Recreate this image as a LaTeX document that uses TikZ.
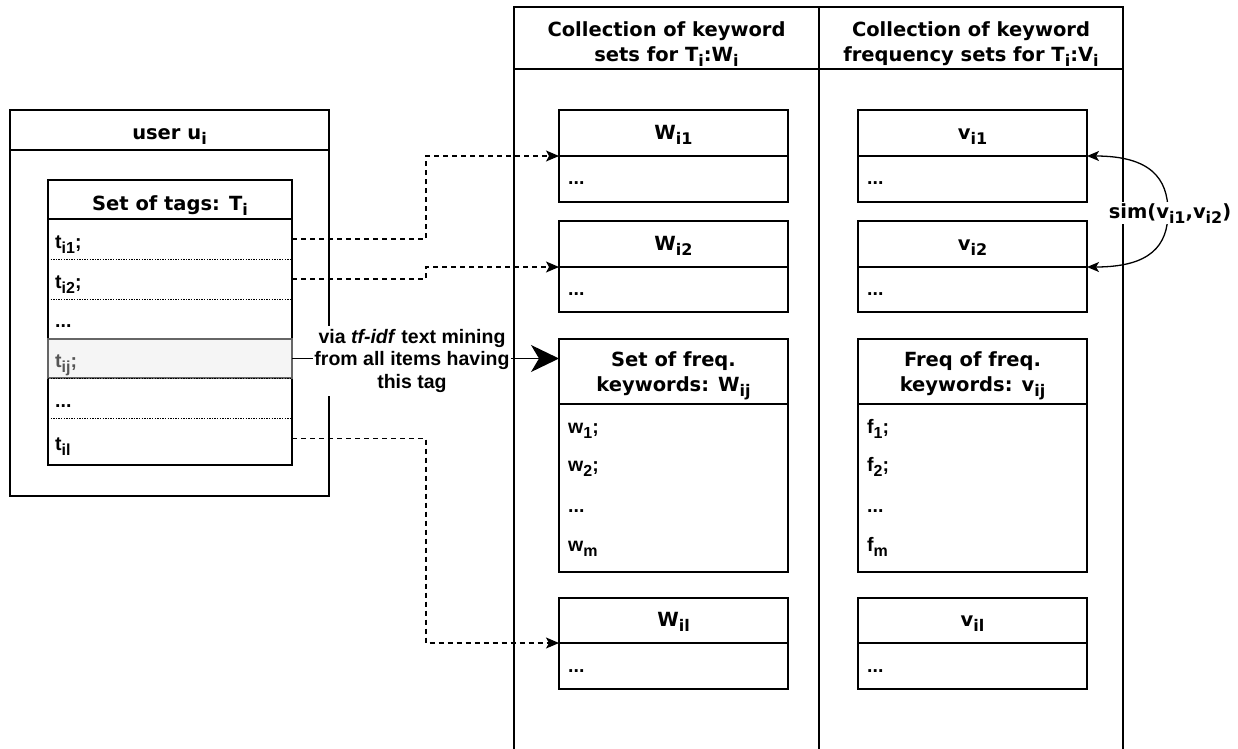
\documentclass[tikz,border=0pt]{standalone}
\usepackage{fontspec}
\setmainfont{Liberation Sans}
\newfontfamily\vfont{DejaVu Sans}
\usetikzlibrary{arrows.meta}
\newcommand\sbs[1]{\raisebox{-0.28em}{\fontsize{16}{16}\selectfont #1}}
\newcommand\fsz{\fontsize{19.5}{23.4}\selectfont}
\newcommand\twoline[2]{\begin{tabular}[t]{@{}c@{}}#1\\#2\end{tabular}}
\begin{document}
\begin{tikzpicture}[x=1pt,y=-1pt,
  ln/.style={line width=1.3pt, draw=black},
  box/.style={ln, anchor=north west, inner sep=0pt, outer sep=0pt},
  row/.style={anchor=north west, inner sep=0pt, outer sep=0pt, minimum width=244pt},
  ttl/.style={anchor=base, inner sep=0pt, font=\vfont\bfseries\fsz},
  itm/.style={anchor=base west, inner sep=0pt, font=\bfseries\fsz},
  sep/.style={line width=1pt, dash pattern=on 1.3pt off 1.3pt},
  dsh/.style={line width=1.3pt, dash pattern=on 5pt off 4pt, -{Stealth[length=13pt,width=11pt,inset=3pt]}},
  simarr/.style={line width=1.3pt, {Stealth[length=12pt,width=10pt,inset=3pt]}-{Stealth[length=12pt,width=10pt,inset=3pt]}}
]
\useasboundingbox (0,0) rectangle (1238,748);
\clip (0,0) rectangle (1238,748);

% swimlanes
\node[box, minimum width=305pt, minimum height=760pt] (col1) at (514,7) {};
\node[box, minimum width=305pt, minimum height=62pt] (col1h) at (514,7) {};
\node[box, minimum width=304pt, minimum height=760pt] (col2) at (819,7) {};
\node[box, minimum width=304pt, minimum height=62pt] (col2h) at (819,7) {};
\node[ttl, font=\vfont\bfseries\fontsize{19.5}{25}\selectfont] (col1t) at (666.5,36) {\twoline{Collection of keyword}{sets for T\sbs{i}:W\sbs{i}}};
\node[ttl, font=\vfont\bfseries\fontsize{19.5}{25}\selectfont] (col2t) at (971,36) {\twoline{Collection of keyword}{frequency sets for T\sbs{i}:V\sbs{i}}};

% user box
\node[box, minimum width=319pt, minimum height=386pt] (user) at (10,110) {};
\node[box, minimum width=319pt, minimum height=40pt] (userh) at (10,110) {};
\node[ttl] (usert) at (169.5,139) {user u\sbs{i}};
\node[box, fill=white, minimum width=244pt, minimum height=285pt] (tags) at (48,180) {};
\node[box, minimum width=244pt, minimum height=39pt] (tagsh) at (48,180) {};
\node[ttl] (tagst) at (170,210) {Set of tags: T\sbs{i}};
\node[row, minimum height=40pt] (r1) at (48,219) {};
\node[row, minimum height=40pt] (r2) at (48,259) {};
\node[row, minimum height=40pt] (r3) at (48,299) {};
\node[row, minimum height=39pt, fill={rgb,255:red,245;green,245;blue,245}, draw={rgb,255:red,102;green,102;blue,102}, line width=1.3pt] (r4) at (48,339) {};
\node[row, minimum height=40pt] (r5) at (48,378) {};
\node[row, minimum height=41pt] (r6) at (48,418) {};
\draw[sep] (r1.south west) -- (r1.south east);
\draw[sep] (r2.south west) -- (r2.south east);
\draw[sep] (r5.north west) -- (r5.north east);
\draw[sep] (r5.south west) -- (r5.south east);
\node[itm] (t1) at (55,248) {t\sbs{i1};};
\node[itm] (t2) at (55,288) {t\sbs{i2};};
\node[itm] (t3) at (55,327) {...};
\node[itm, text={rgb,255:red,85;green,85;blue,85}] (t4) at (55,367) {t\sbs{ij};};
\node[itm] (t5) at (55,407) {...};
\node[itm] (t6) at (55,450) {t\sbs{il}};

% keyword set boxes
\node[box, minimum width=229pt, minimum height=46pt] (w1h) at (559,110) {};
\node[box, minimum width=229pt, minimum height=46pt] (w1b) at (559,156) {};
\node[box, minimum width=229pt, minimum height=46pt] (w2h) at (559,221) {};
\node[box, minimum width=229pt, minimum height=45pt] (w2b) at (559,267) {};
\node[box, minimum width=229pt, minimum height=65pt] (w3h) at (559,339) {};
\node[box, minimum width=229pt, minimum height=168pt] (w3b) at (559,404) {};
\node[box, minimum width=229pt, minimum height=45pt] (w4h) at (559,598) {};
\node[box, minimum width=229pt, minimum height=46pt] (w4b) at (559,643) {};
\node[ttl] (w1t) at (673.5,139) {W\sbs{i1}};
\node[ttl] (w2t) at (673.5,250.5) {W\sbs{i2}};
\node[ttl, font=\vfont\bfseries\fontsize{19.5}{24.5}\selectfont] (w3t) at (673.5,366.5) {\twoline{Set of freq.}{keywords: W\sbs{ij}}};
\node[ttl] (w4t) at (673.5,626) {W\sbs{il}};
\node[itm] (w1d) at (568,184) {...};
\node[itm] (w2d) at (568,295) {...};
\node[itm] (wa) at (568,433) {w\sbs{1};};
\node[itm] (wb) at (568,471) {w\sbs{2};};
\node[itm] (wc) at (568,512) {...};
\node[itm] (wd) at (568,551) {w\sbs{m}};
\node[itm] (w4d) at (568,672) {...};

% frequency boxes
\node[box, minimum width=229pt, minimum height=46pt] (v1h) at (858,110) {};
\node[box, minimum width=229pt, minimum height=46pt] (v1b) at (858,156) {};
\node[box, minimum width=229pt, minimum height=46pt] (v2h) at (858,221) {};
\node[box, minimum width=229pt, minimum height=45pt] (v2b) at (858,267) {};
\node[box, minimum width=229pt, minimum height=65pt] (v3h) at (858,339) {};
\node[box, minimum width=229pt, minimum height=168pt] (v3b) at (858,404) {};
\node[box, minimum width=229pt, minimum height=45pt] (v4h) at (858,598) {};
\node[box, minimum width=229pt, minimum height=46pt] (v4b) at (858,643) {};
\node[ttl] (v1t) at (972.5,139) {v\sbs{i1}};
\node[ttl] (v2t) at (972.5,250.5) {v\sbs{i2}};
\node[ttl, font=\vfont\bfseries\fontsize{19.5}{24.5}\selectfont] (v3t) at (972.5,366.5) {\twoline{Freq of freq.}{keywords: v\sbs{ij}}};
\node[ttl] (v4t) at (972.5,626) {v\sbs{il}};
\node[itm] (v1d) at (867,184) {...};
\node[itm] (v2d) at (867,295) {...};
\node[itm] (fa) at (867,433) {f\sbs{1};};
\node[itm] (fb) at (867,471) {f\sbs{2};};
\node[itm] (fc) at (867,512) {...};
\node[itm] (fd) at (867,551) {f\sbs{m}};
\node[itm] (v4d) at (867,672) {...};

% dashed connectors
\coordinate (mid) at (426,0);
\draw[dsh] (r1.east) -- (r1.east -| mid) |- (w1b.north west);
\draw[dsh] (r2.east) -- (r2.east -| mid) |- (w2b.north west);
\draw[dsh] (r6.east) -- (r6.east -| mid) |- (w4b.north west);

% main arrow with label
\draw[line width=1.3pt, -{Stealth[length=28pt,width=27pt,inset=8pt]}] (r4.east) -- (r4.east -| w3h.west);
\node[anchor=base, fill=white, inner sep=1pt, font=\bfseries\fontsize{19.5}{22.5}\selectfont] (lbl) at (412,343) {\begin{tabular}[t]{@{}c@{}}via \textit{tf-idf} text mining\\from all items having\\this tag\end{tabular}};

% similarity connector
\coordinate (simc) at (1168,212);
\draw[simarr] (v1h.south east) .. controls (1150,156) and (1168,178) .. (simc) .. controls (1168,246) and (1150,267) .. (v2h.south east);
\node[ttl, fill=white, inner sep=1pt] (sim) at (1170,218) {sim(v\sbs{i1},v\sbs{i2})};
\end{tikzpicture}
\end{document}
